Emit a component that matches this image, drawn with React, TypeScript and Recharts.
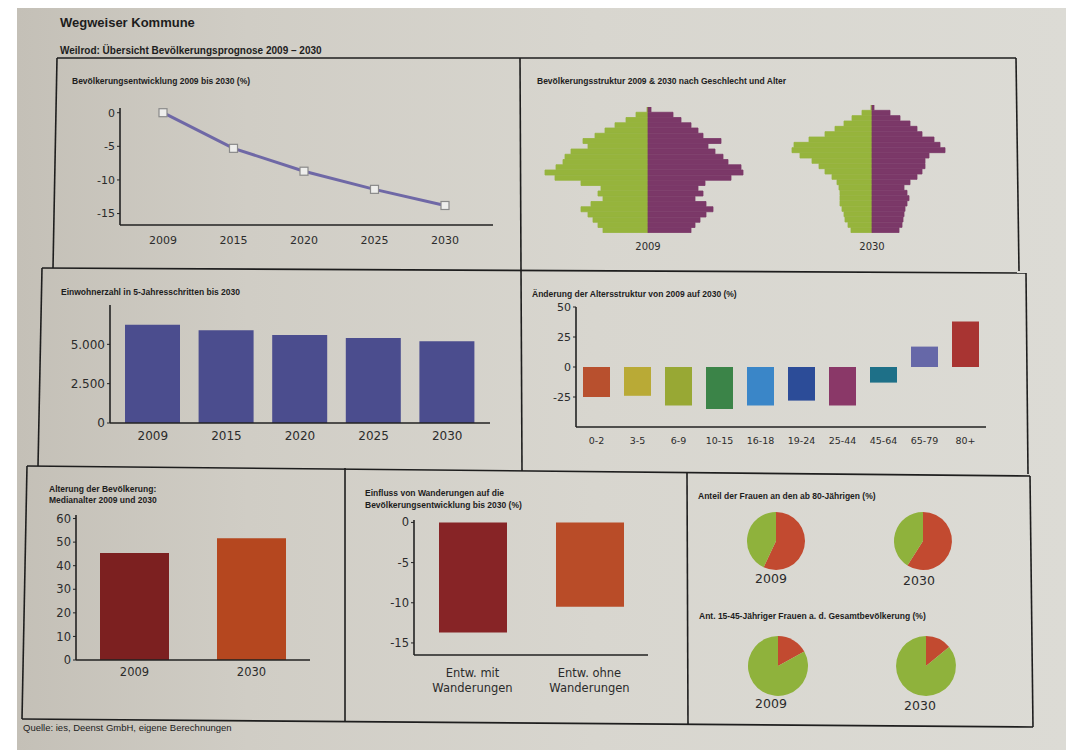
import React from "react";
import { LineChart, Line, BarChart, Bar, Cell, XAxis, YAxis, PieChart, Pie } from "recharts";

// Bevölkerungsentwicklung 2009 bis 2030 (%)
const years = ["2009", "2015", "2020", "2025", "2030"];
const entwicklungPct = [0, -5.3, -8.7, -11.4, -13.8];

// Einwohnerzahl in 5-Jahresschritten
const einwohner = [6250, 5900, 5600, 5400, 5200];

// Änderung der Altersstruktur 2009 -> 2030 (%)
const altersgruppen = ["0-2", "3-5", "6-9", "10-15", "16-18", "19-24", "25-44", "45-64", "65-79", "80+"];
const altersAenderung = [-25, -24, -32, -35, -32, -28, -32, -13, 17, 38];
const altersFarben = ["#b8502e", "#b9aa36", "#98a834", "#3b8448", "#3a86c8", "#2c4c98", "#8a3868", "#1e7088", "#6668a8", "#a83432"];

// Medianalter
const medianJahre = ["2009", "2030"];
const medianalter = [45.4, 51.6];
const medianFarben = ["#7c2020", "#b5471f"];

// Einfluss von Wanderungen (%)
const wanderungKategorien = ["Entw. mit Wanderungen", "Entw. ohne Wanderungen"];
const wanderungZeilen = [["Entw. mit", "Wanderungen"], ["Entw. ohne", "Wanderungen"]];
const wanderungWerte = [-13.7, -10.5];
const wanderungFarben = ["#872426", "#b94c28"];

// Bevölkerungspyramiden (oben = alt, unten = jung)
const pyramidAlter = [
  "92-95", "88-91", "84-87", "80-83", "76-79", "72-75", "68-71", "64-67",
  "60-63", "56-59", "52-55", "48-51", "44-47", "40-43", "36-39", "32-35",
  "28-31", "24-27", "20-23", "16-19", "12-15", "8-11", "4-7", "0-3",
];
const maenner2009 = [1, 12, 22, 33, 43, 53, 65, 60, 77, 83, 85, 92, 103, 93, 67, 47, 50, 45, 57, 67, 60, 55, 50, 45];
const frauen2009 = [3, 25, 33, 43, 50, 55, 73, 60, 67, 75, 80, 93, 95, 83, 57, 50, 55, 47, 58, 65, 58, 52, 47, 43];
const maenner2030 = [1, 10, 20, 28, 37, 47, 63, 78, 80, 72, 60, 53, 47, 40, 35, 33, 32, 32, 32, 30, 28, 27, 24, 21];
const frauen2030 = [2, 18, 28, 38, 45, 50, 62, 68, 73, 57, 53, 53, 50, 45, 38, 32, 35, 37, 35, 33, 32, 31, 30, 27];

// Tortendiagramme
const pieJahre = ["2009", "2030"];
const frauenAnteil80 = [57, 59];
const maennerAnteil80 = [43, 41];
const frauenAnteil1545 = [17, 14];
const restAnteil1545 = [83, 86];

const GREEN = "#96b43c";
const PURPLE = "#7b3868";
const PIE_RED = "#c24a30";
const PIE_GREEN = "#8fb23c";
const AXIS = "#222";
const TICK_FONT = "DejaVu Sans";
const TITLE_FONT = "'Liberation Sans', Arial, sans-serif";

const lineData = years.map((y, i) => ({ jahr: y, wert: entwicklungPct[i] }));
const einwohnerData = years.map((y, i) => ({ jahr: y, wert: einwohner[i] }));
const alterData = altersgruppen.map((g, i) => ({ gruppe: g, wert: altersAenderung[i] }));
const medianData = medianJahre.map((y, i) => ({ jahr: y, wert: medianalter[i] }));
const wanderungData = wanderungKategorien.map((k, i) => ({ name: k, wert: wanderungWerte[i] }));
const pyr2009 = pyramidAlter.map((a, i) => ({ alter: a, m: -maenner2009[i], w: frauen2009[i] }));
const pyr2030 = pyramidAlter.map((a, i) => ({ alter: a, m: -maenner2030[i], w: frauen2030[i] }));

const tick = (size: number) => ({ fill: "#2b2b2b", fontSize: size, fontFamily: TICK_FONT });
const axisLine = { stroke: AXIS, strokeWidth: 1.6 };

const frameLines = [
  [57, 58, 1016, 58], [57, 58, 53, 268], [1016, 58, 1019, 271], [520, 58, 521, 269],
  [42, 268, 1026, 273], [42, 268, 38, 466], [1026, 273, 1028, 474], [521, 269, 522, 471],
  [27, 466, 1030, 476], [27, 466, 22, 719], [1030, 476, 1033, 727],
  [345, 468, 345, 722], [687, 473, 688, 725], [22, 719, 1033, 727],
];

function Title({ x, y, size = 8.5, children }: { x: number; y: number; size?: number; children: React.ReactNode }) {
  return (
    <div style={{ position: "absolute", left: x, top: y, fontFamily: TITLE_FONT, fontWeight: 700, fontSize: size, lineHeight: "11px", color: "#1d1d1d", whiteSpace: "nowrap" }}>
      {children}
    </div>
  );
}

function Label({ x, y, size = 12, children }: { x: number; y: number; size?: number; children: React.ReactNode }) {
  return (
    <div style={{ position: "absolute", left: x - 30, top: y, width: 60, textAlign: "center", fontFamily: TICK_FONT, fontSize: size, color: "#2b2b2b" }}>
      {children}
    </div>
  );
}

function SquareDot(p: any) {
  return <rect key={`d${p.index}`} x={p.cx - 4} y={p.cy - 4} width={8} height={8} fill="#eeeeec" stroke="#8a8a8a" strokeWidth={1.2} />;
}

function WanderungTick(p: any) {
  const lines = wanderungZeilen[p.index] || [];
  return (
    <text x={p.x} y={p.y + 14} textAnchor="middle" fill="#2b2b2b" fontSize={11.5} fontFamily={TICK_FONT}>
      {lines.map((l, i) => (
        <tspan key={i} x={p.x} dy={i === 0 ? 0 : 15}>{l}</tspan>
      ))}
    </text>
  );
}

function Pyramid({ data, left, top, height }: { data: any[]; left: number; top: number; height: number }) {
  return (
    <div style={{ position: "absolute", left, top }}>
      <BarChart width={220} height={height} data={data} layout="vertical" stackOffset="sign" barCategoryGap={0} margin={{ top: 0, right: 0, bottom: 0, left: 0 }}>
        <XAxis type="number" domain={[-110, 110]} hide />
        <YAxis type="category" dataKey="alter" hide />
        <Bar dataKey="m" stackId="p" fill={GREEN} stroke={GREEN} strokeWidth={0.8} isAnimationActive={false} />
        <Bar dataKey="w" stackId="p" fill={PURPLE} stroke={PURPLE} strokeWidth={0.8} isAnimationActive={false} />
      </BarChart>
    </div>
  );
}

export default function App() {
  return (
    <div style={{ position: "absolute", left: 0, top: 0, width: 1066, height: 750, background: "#ffffff", overflow: "hidden" }}>
      <div style={{ position: "absolute", left: 17, top: 8, width: 1049, height: 742, background: "linear-gradient(to right, #c4c0b7 0%, #d0cdc5 22%, #d8d6cf 55%, #dcdbd5 100%)" }} />

      <svg width={1066} height={750} style={{ position: "absolute", left: 0, top: 0 }}>
        {frameLines.map(([x1, y1, x2, y2], i) => (
          <line key={i} x1={x1} y1={y1} x2={x2} y2={y2} stroke="#1e1e1e" strokeWidth={1.6} />
        ))}
      </svg>

      <Title x={60} y={17} size={13}>Wegweiser Kommune</Title>
      <Title x={60} y={45} size={10}>Weilrod: Übersicht Bevölkerungsprognose 2009 – 2030</Title>

      {/* Bevölkerungsentwicklung */}
      <Title x={72} y={76} size={8.5}>Bevölkerungsentwicklung 2009 bis 2030 (%)</Title>
      <div style={{ position: "absolute", left: 70, top: 100 }}>
        <LineChart width={440} height={150} data={lineData} margin={{ top: 8, right: 17, bottom: 0, left: 10 }}>
          <XAxis dataKey="jahr" height={25} padding={{ left: 43, right: 48 }} axisLine={axisLine} tickLine={false} tickMargin={5} tick={tick(11)} />
          <YAxis width={40} domain={[-16.7, 0.7]} ticks={[0, -5, -10, -15]} axisLine={axisLine} tickSize={3} tickLine={{ stroke: AXIS }} tick={tick(11)} />
          <Line dataKey="wert" stroke="#6f68a6" strokeWidth={3} dot={SquareDot} isAnimationActive={false} />
        </LineChart>
      </div>

      {/* Pyramiden */}
      <Title x={537} y={76} size={8.5}>Bevölkerungsstruktur 2009 &amp; 2030 nach Geschlecht und Alter</Title>
      <Pyramid data={pyr2009} left={538} top={107} height={126} />
      <Pyramid data={pyr2030} left={762} top={105} height={128} />
      <Label x={648} y={241} size={10}>2009</Label>
      <Label x={872} y={241} size={10}>2030</Label>

      {/* Einwohnerzahl */}
      <Title x={61} y={287} size={8.5}>Einwohnerzahl in 5-Jahresschritten bis 2030</Title>
      <div style={{ position: "absolute", left: 60, top: 295 }}>
        <BarChart width={440} height={150} data={einwohnerData} margin={{ top: 10, right: 10, bottom: 0, left: 5 }}>
          <XAxis dataKey="jahr" height={22} padding={{ left: 6, right: 6 }} axisLine={axisLine} tickLine={false} tick={tick(12)} />
          <YAxis width={45} domain={[0, 7500]} ticks={[0, 2500, 5000]} tickFormatter={(v: number) => v.toLocaleString("de-DE")} axisLine={axisLine} tickSize={3} tickLine={{ stroke: AXIS }} tick={tick(12)} />
          <Bar dataKey="wert" fill="#4b4d8e" barSize={55} isAnimationActive={false} />
        </BarChart>
      </div>

      {/* Änderung der Altersstruktur */}
      <Title x={532} y={289} size={8.5}>Änderung der Altersstruktur von 2009 auf 2030 (%)</Title>
      <div style={{ position: "absolute", left: 530, top: 300 }}>
        <BarChart width={470} height={150} data={alterData} margin={{ top: 7, right: 14, bottom: 0, left: 10 }}>
          <XAxis dataKey="gruppe" height={23} axisLine={axisLine} tickLine={false} tickMargin={4} tick={tick(9.5)} interval={0} />
          <YAxis width={36} domain={[-50, 50]} ticks={[50, 25, 0, -25]} axisLine={axisLine} tickSize={3} tickLine={{ stroke: AXIS }} tick={tick(11)} />
          <Bar dataKey="wert" barSize={27} isAnimationActive={false}>
            {alterData.map((d, i) => (
              <Cell key={d.gruppe} fill={altersFarben[i]} />
            ))}
          </Bar>
        </BarChart>
      </div>

      {/* Medianalter */}
      <div style={{ position: "absolute", left: 49, top: 484, fontFamily: TITLE_FONT, fontWeight: 700, fontSize: 8.5, lineHeight: "11px", color: "#1d1d1d" }}>
        Alterung der Bevölkerung:<br />Medianalter 2009 und 2030
      </div>
      <div style={{ position: "absolute", left: 30, top: 508 }}>
        <BarChart width={290} height={175} data={medianData} margin={{ top: 7, right: 10, bottom: 0, left: 12 }}>
          <XAxis dataKey="jahr" height={23} axisLine={axisLine} tickLine={false} tick={tick(11.5)} />
          <YAxis width={34} domain={[0, 61.5]} ticks={[0, 10, 20, 30, 40, 50, 60]} axisLine={axisLine} tickSize={3} tickLine={{ stroke: AXIS }} tick={tick(11.5)} />
          <Bar dataKey="wert" barSize={69} isAnimationActive={false}>
            {medianData.map((d, i) => (
              <Cell key={d.jahr} fill={medianFarben[i]} />
            ))}
          </Bar>
        </BarChart>
      </div>

      {/* Wanderungen */}
      <div style={{ position: "absolute", left: 365, top: 487, fontFamily: TITLE_FONT, fontWeight: 700, fontSize: 8.5, lineHeight: "12px", color: "#1d1d1d" }}>
        Einfluss von Wanderungen auf die<br />Bevölkerungsentwicklung bis 2030 (%)
      </div>
      <div style={{ position: "absolute", left: 370, top: 512 }}>
        <BarChart width={290} height={190} data={wanderungData} margin={{ top: 8, right: 12, bottom: 0, left: 10 }}>
          <XAxis dataKey="name" height={47} axisLine={axisLine} tickLine={false} tick={WanderungTick} interval={0} />
          <YAxis width={34} domain={[-16.5, 0.3]} ticks={[0, -5, -10, -15]} axisLine={axisLine} tickSize={3} tickLine={{ stroke: AXIS }} tick={tick(11.5)} />
          <Bar dataKey="wert" barSize={68} isAnimationActive={false}>
            {wanderungData.map((d, i) => (
              <Cell key={d.name} fill={wanderungFarben[i]} />
            ))}
          </Bar>
        </BarChart>
      </div>

      {/* Tortendiagramme */}
      <Title x={698} y={491} size={8.5}>Anteil der Frauen an den ab 80-Jährigen (%)</Title>
      <Title x={699} y={611} size={8.5}>Ant. 15-45-Jähriger Frauen a. d. Gesamtbevölkerung (%)</Title>
      <div style={{ position: "absolute", left: 690, top: 480 }}>
        <PieChart width={330} height={240}>
          {pieJahre.map((j, i) => (
            <Pie
              key={`o${j}`}
              data={[{ name: "Frauen", value: frauenAnteil80[i] }, { name: "Männer", value: maennerAnteil80[i] }]}
              dataKey="value"
              cx={i === 0 ? 81 : 228}
              cy={56}
              outerRadius={29}
              startAngle={90}
              endAngle={-270}
              stroke="none"
              isAnimationActive={false}
            >
              <Cell fill={PIE_RED} />
              <Cell fill={PIE_GREEN} />
            </Pie>
          ))}
          {pieJahre.map((j, i) => (
            <Pie
              key={`u${j}`}
              data={[{ name: "Frauen 15-45", value: frauenAnteil1545[i] }, { name: "Rest", value: restAnteil1545[i] }]}
              dataKey="value"
              cx={i === 0 ? 83 : 231}
              cy={181}
              outerRadius={30}
              startAngle={90}
              endAngle={-270}
              stroke="none"
              isAnimationActive={false}
            >
              <Cell fill={PIE_RED} />
              <Cell fill={PIE_GREEN} />
            </Pie>
          ))}
        </PieChart>
      </div>
      <Label x={771} y={571} size={12.5}>{pieJahre[0]}</Label>
      <Label x={919} y={573} size={12.5}>{pieJahre[1]}</Label>
      <Label x={771} y={696} size={12.5}>{pieJahre[0]}</Label>
      <Label x={920} y={698} size={12.5}>{pieJahre[1]}</Label>

      <div style={{ position: "absolute", left: 23, top: 722, fontFamily: TITLE_FONT, fontSize: 9.5, color: "#222" }}>
        Quelle: ies, Deenst GmbH, eigene Berechnungen
      </div>
    </div>
  );
}
